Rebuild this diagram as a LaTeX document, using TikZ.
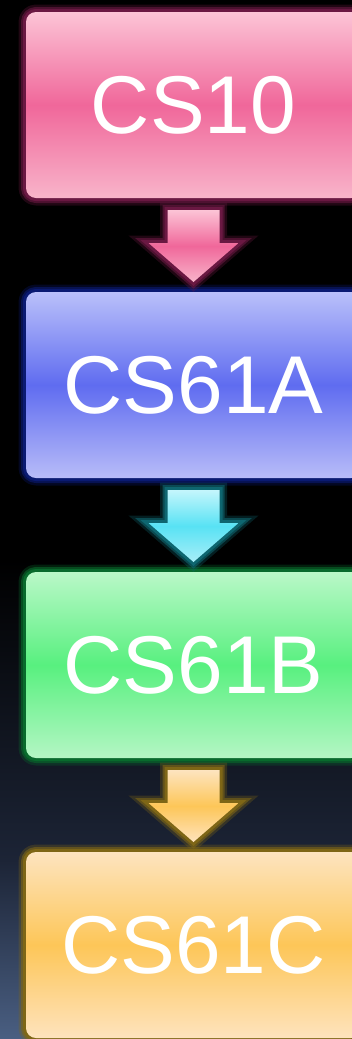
\documentclass[tikz,border=0pt]{standalone}
\usepackage{fontspec}
\setmainfont{Liberation Sans}
\usetikzlibrary{positioning,calc}

% box colours: A top, B middle, C bottom, E glow
\definecolor{pinkA}{HTML}{FCC4D6}
\definecolor{pinkB}{HTML}{F0679A}
\definecolor{pinkC}{HTML}{F8B4CA}
\definecolor{pinkE}{HTML}{6A1842}
\definecolor{blueA}{HTML}{BAC0FA}
\definecolor{blueB}{HTML}{5F6CF0}
\definecolor{blueC}{HTML}{B8BCF8}
\definecolor{blueE}{HTML}{0A1A72}
\definecolor{greenA}{HTML}{BAF8C8}
\definecolor{greenB}{HTML}{58F07F}
\definecolor{greenC}{HTML}{B4F6C4}
\definecolor{greenE}{HTML}{086A2C}
\definecolor{goldA}{HTML}{FDE4BF}
\definecolor{goldB}{HTML}{FDC658}
\definecolor{goldC}{HTML}{FEE3BD}
\definecolor{goldE}{HTML}{7E6616}
\definecolor{cyanA}{HTML}{C4F6FC}
\definecolor{cyanB}{HTML}{58E2F4}
\definecolor{cyanC}{HTML}{A8EEF8}
\definecolor{cyanE}{HTML}{0E6670}
\definecolor{bgmid}{HTML}{1C2436}
\definecolor{bglow}{HTML}{4A5F82}

\tikzset{
  glow/.style={line join=round,
    preaction={draw=#1,line width=15pt,opacity=.3},
    preaction={draw=#1,line width=10pt,opacity=.6},
    preaction={draw=#1,line width=6pt}},
  course/.style={rounded corners=10pt,minimum width=335pt,minimum height=186pt,
    inner sep=0pt,outer sep=0pt,text=white,font=\fontsize{82}{82}\selectfont,
    glow=#1E,top color=#1A,bottom color=#1C,middle color=#1B},
}

\begin{document}
\begin{tikzpicture}[x=1pt,y=1pt,node distance=94pt]
  \useasboundingbox (0,0) rectangle (352,-1039);
  \clip (0,0) rectangle (352,-1039);
  % background
  \fill[black] (0,0) rectangle (352,-1039);
  \shade[top color=black,bottom color=bgmid] (0,-560) rectangle (352,-860);
  \shade[top color=bgmid,bottom color=bglow] (0,-860) rectangle (352,-1039);

  \node[course=pink] (cs10) at (193.5,-105) {CS10};
  \node[course=blue,below=of cs10] (cs61a) {CS61A};
  \node[course=green,below=of cs61a] (cs61b) {CS61B};
  \node[course=gold,below=of cs61b] (cs61c) {CS61C};

  % block arrows
  \foreach \from/\to/\col in {cs10/cs61a/pink,cs61a/cs61b/cyan,cs61b/cs61c/gold}
    \path[glow=\col E,top color=\col A,bottom color=\col C,middle color=\col B]
      ($(\from.south)+(-26,-12)$) -- ($(\from.south)+(26,-12)$)
      -- ($(\from.south)+(26,-45)$) -- ($(\from.south)+(45,-45)$)
      -- ($(\to.north)+(0,10)$)
      -- ($(\from.south)+(-45,-45)$) -- ($(\from.south)+(-26,-45)$) -- cycle;
\end{tikzpicture}
\end{document}
